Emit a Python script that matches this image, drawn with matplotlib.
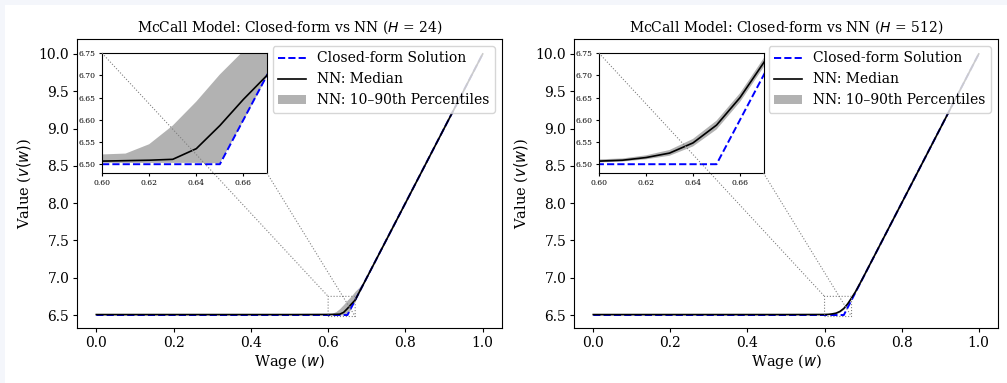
import matplotlib
matplotlib.use("Agg")
import matplotlib.pyplot as plt
from matplotlib.patches import Rectangle

plt.rcParams["font.family"] = "DejaVu Serif"
plt.rcParams["mathtext.fontset"] = "dejavusans"

# Wage grid (coarse outside the zoomed window, where every curve is straight).
wage = [0.0, 0.1, 0.2, 0.3, 0.4, 0.5, 0.6, 0.61, 0.62, 0.63, 0.64, 0.65,
        0.66, 0.67, 0.68, 0.69, 0.70, 0.80, 0.90, 1.00]

closed_form = [6.5, 6.5, 6.5, 6.5, 6.5, 6.5, 6.5, 6.5, 6.5, 6.5, 6.5, 6.5,
               6.6, 6.7, 6.8, 6.9, 7.0, 8.0, 9.0, 10.0]

# H = 24
med_24 = [6.506, 6.506, 6.506, 6.506, 6.506, 6.506, 6.507, 6.508, 6.509, 6.511, 6.535, 6.587,
          6.646, 6.700, 6.800, 6.900, 7.000, 8.000, 9.000, 10.000]
lo_24 = [6.503, 6.503, 6.503, 6.503, 6.503, 6.503, 6.503, 6.503, 6.503, 6.503, 6.503, 6.502,
         6.598, 6.697, 6.797, 6.897, 6.997, 7.997, 8.997, 9.997]
hi_24 = [6.520, 6.520, 6.520, 6.520, 6.520, 6.520, 6.522, 6.524, 6.545, 6.587, 6.641, 6.702,
         6.755, 6.820, 6.870, 6.940, 7.020, 8.010, 9.010, 10.010]

# H = 512
med_512 = [6.506, 6.506, 6.506, 6.506, 6.506, 6.506, 6.507, 6.509, 6.515, 6.525, 6.548, 6.588,
           6.650, 6.728, 6.810, 6.905, 7.002, 8.000, 9.000, 10.000]
lo_512 = [6.503, 6.503, 6.503, 6.503, 6.503, 6.503, 6.504, 6.506, 6.511, 6.519, 6.540, 6.578,
          6.640, 6.718, 6.802, 6.899, 6.997, 7.996, 8.996, 9.996]
hi_512 = [6.510, 6.510, 6.510, 6.510, 6.510, 6.510, 6.511, 6.513, 6.520, 6.532, 6.557, 6.598,
          6.660, 6.738, 6.818, 6.911, 7.007, 8.004, 9.004, 10.004]

panels = [("24", med_24, lo_24, hi_24), ("512", med_512, lo_512, hi_512)]

W, H = 1007, 383
fig = plt.figure(figsize=(W / 100, H / 100), dpi=100, facecolor="#f4f6fb")
fig.patches.append(Rectangle((5 / W, 0), 1, 1 - 5 / H, transform=fig.transFigure,
                             facecolor="white", edgecolor="none", zorder=-1))

ax_boxes = [(77, 39, 425, 289), (574, 39, 424, 289)]  # left, top, width, height (px)


def draw(a, med, lo, hi):
    a.plot(wage, closed_form, "--", color="blue", lw=1.4, label="Closed-form Solution")
    a.plot(wage, med, color="black", lw=1.2, label="NN: Median")
    a.fill_between(wage, lo, hi, color="gray", alpha=0.6, lw=0,
                   label="NN: 10\u201390th Percentiles", zorder=1)


for (horizon, med, lo, hi), (px, py, pw, ph) in zip(panels, ax_boxes):
    ax = fig.add_axes([px / W, 1 - (py + ph) / H, pw / W, ph / H])
    draw(ax, med, lo, hi)
    ax.set_xlim(-0.05, 1.05)
    ax.set_ylim(6.326, 10.2)
    ax.set_xticks([0.0, 0.2, 0.4, 0.6, 0.8, 1.0])
    ax.set_yticks([6.5, 7.0, 7.5, 8.0, 8.5, 9.0, 9.5, 10.0])
    ax.tick_params(labelsize=10, length=3, pad=2.5)
    ax.set_title(f"McCall Model: Closed-form vs NN ($H$ = {horizon})", fontsize=10, pad=5)
    ax.set_xlabel("Wage ($w$)", fontsize=10.5, labelpad=2)
    ax.set_ylabel("Value ($v(w)$)", fontsize=10.5, labelpad=4)
    ax.legend(loc="upper right", fontsize=10, handlelength=2.0)

    axins = ax.inset_axes([0.059, 0.536, 0.388, 0.415])
    draw(axins, med, lo, hi)
    axins.set_xlim(0.60, 0.67)
    axins.set_ylim(6.48, 6.75)
    axins.set_xticks([0.60, 0.62, 0.64, 0.66])
    axins.set_yticks([6.50, 6.55, 6.60, 6.65, 6.70, 6.75])
    axins.tick_params(labelsize=5.5, length=2.5, pad=2)

    ind = ax.indicate_inset_zoom(axins, edgecolor="gray", linestyle=":", lw=0.8, alpha=1)
    ind.set_zorder(6)  # draw the connectors over the inset, as in the original
    # connectors: lower-left, upper-left, lower-right, upper-right of the inset
    for c, show in zip(ind.connectors, [False, True, True, False]):
        c.set_visible(show)
        c.set_linestyle(":")
        c.set_linewidth(0.8)
        c.set_edgecolor("gray")

fig.savefig("out.png", dpi=100, facecolor=fig.get_facecolor())
